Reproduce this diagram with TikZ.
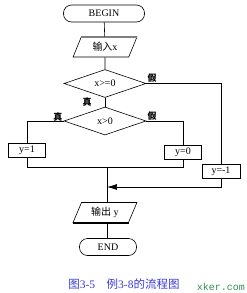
\documentclass[tikz,border=0pt]{standalone}
\usepackage{fontspec}
\setmainfont{Liberation Serif}
\setmonofont{Liberation Mono}
\newfontfamily\cjk{Noto Sans CJK SC}
\usetikzlibrary{shapes.geometric,arrows.meta}
\definecolor{bleulegende}{HTML}{3A3AD0}
\definecolor{vertmarque}{HTML}{2F8F4F}

\begin{document}
\begin{tikzpicture}[x=1pt,y=-1pt,line width=0.6pt,font=\fontsize{10}{12}\selectfont]
	% Styles
	\tikzstyle{fleche}=[-{Latex[length=10pt,width=6pt]}]
	\tikzstyle{terminal}=[draw,rounded corners=8pt,minimum height=17pt,inner sep=0pt]
	\tikzstyle{entree}=[draw,trapezium,trapezium left angle=65,trapezium right angle=115,trapezium stretches=true,minimum width=64pt,minimum height=20pt,inner sep=0pt]
	\tikzstyle{test}=[draw,diamond,minimum width=82pt,minimum height=28pt,inner sep=0pt]
	\tikzstyle{boite}=[draw,minimum width=37pt,minimum height=14pt,inner sep=0pt]
	\tikzstyle{etiquette}=[font=\cjk\bfseries\fontsize{9}{9}\selectfont,inner sep=1pt]
	% Cadre
	\useasboundingbox (0,0) rectangle (247,293);
	% Noeuds
	\node[terminal,minimum width=81pt] (debut) at (104,13.5) {BEGIN};
	\node[entree] (lire) at (105,47) {{\cjk 输入}x};
	\node[test] (testA) at (105,83.5) {x>=0};
	\node[test] (testB) at (105,121) {x>0};
	\node[boite] (yun) at (27,150) {y=1};
	\node[boite] (yzero) at (183,152) {y=0};
	\node[boite,minimum width=38pt] (ymoinsun) at (221,171) {y=-1};
	\node[entree] (ecrire) at (105,212.5) {{\cjk 输出} y};
	\node[terminal,minimum width=57pt] (fin) at (108,247) {END};
	\coordinate (jonctionG) at (27,167);
	\coordinate (jonctionD) at (183,167);
	\coordinate (jonctionM) at (107,167);
	\coordinate (retour) at (107,187);
	% Bords epais
	\draw[line width=1.6pt,gray] (lire.top left corner) -- (lire.top right corner);
	\draw[line width=1.6pt] (ecrire.bottom left corner) -- (ecrire.bottom right corner);
	% Arcs
	\draw (debut) -- (lire);
	\draw (lire) -- (testA);
	\draw (testA.east) node[etiquette,above right]{假} -| (ymoinsun.north);
	\draw (testA.south) -- (testB.north) node[etiquette,midway,left=12pt]{真};
	\draw (testB.west) node[etiquette,above left,yshift=-2pt]{真} -| (yun.north);
	\draw (testB.east) node[etiquette,above right,yshift=-1pt]{假} -| (yzero.north);
	\draw (yun.south) -- (jonctionG) -- (jonctionD) -- (yzero.south);
	\draw (jonctionM) -- (jonctionM |- ecrire.north);
	\draw[fleche] (ymoinsun.south) |- (retour);
	\draw (jonctionM |- ecrire.south) -- (jonctionM |- fin.north);
	% Legende
	\node[text=bleulegende,font=\cjk\fontsize{11.5}{11.5}\selectfont] (legende) at (124,284) {图{\rmfamily 3-5}\quad 例{\rmfamily 3-8}的流程图};
	\node[text=vertmarque,font=\ttfamily\fontsize{10}{10}\selectfont] (marque) at (221,287) {xker.com};
\end{tikzpicture}
\end{document}
